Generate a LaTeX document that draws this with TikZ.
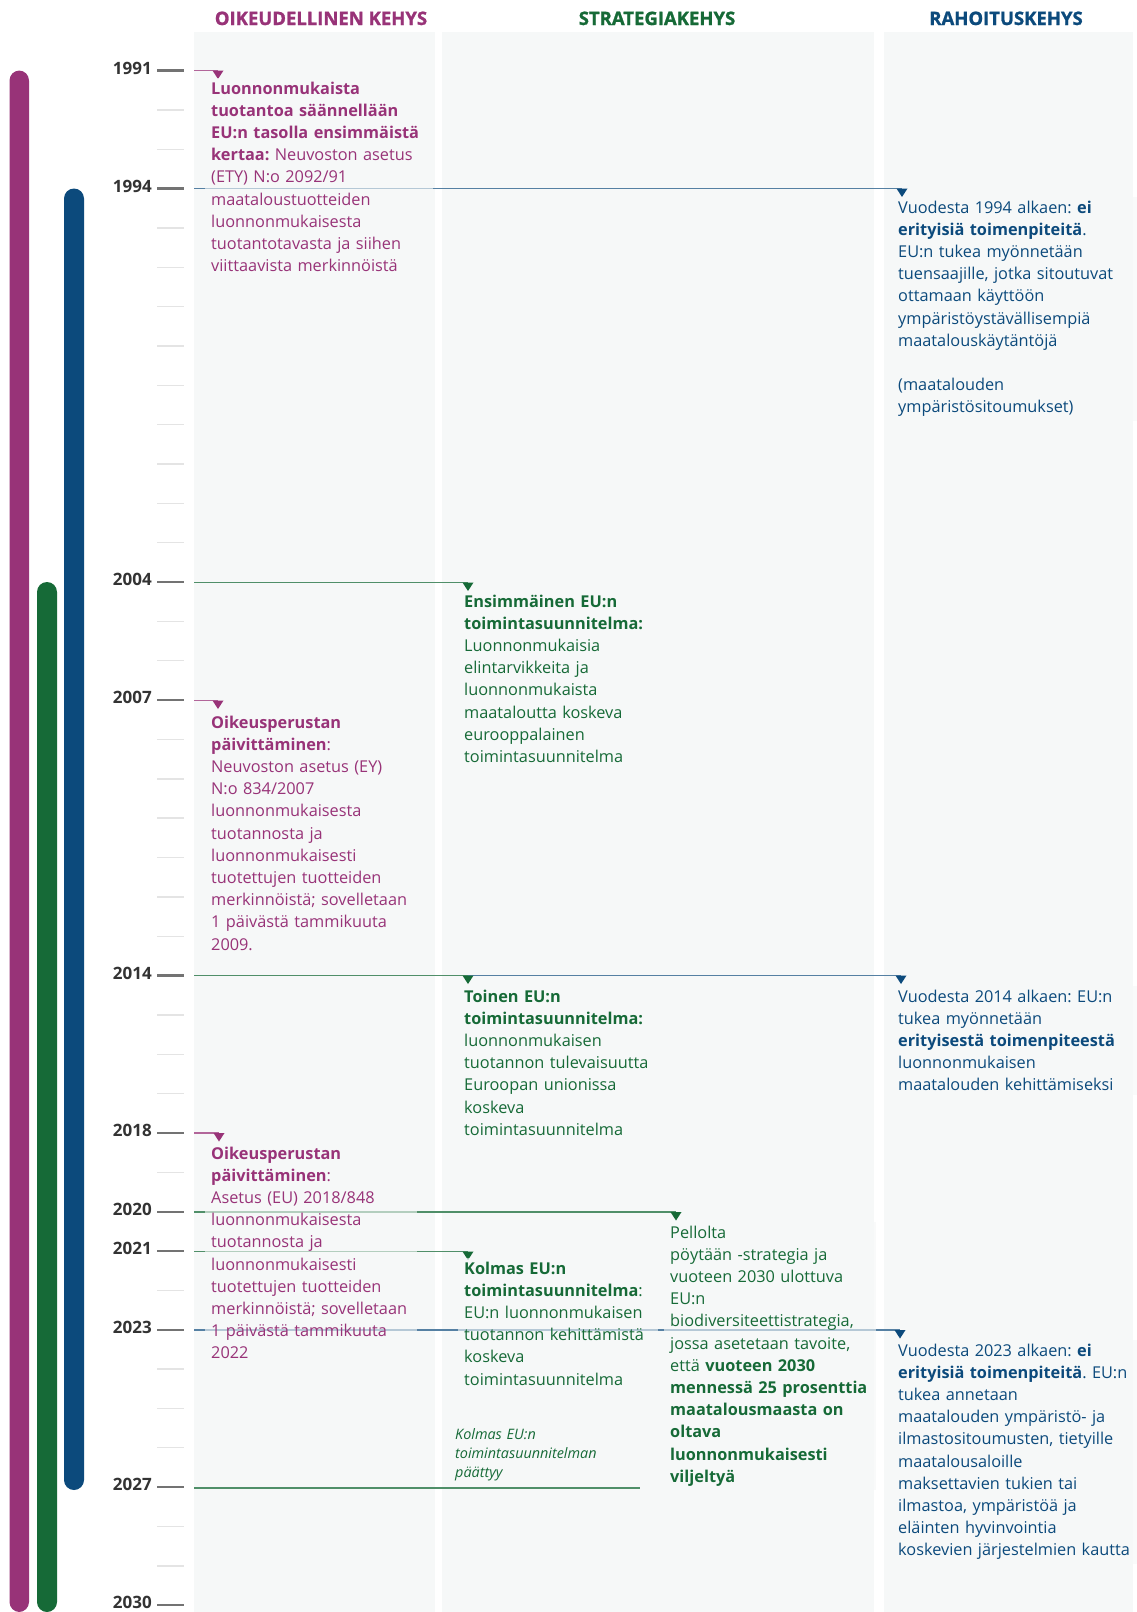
\documentclass[tikz,border=0pt]{standalone}
\usepackage{fontspec}
\setmainfont{Open Sans}
\newfontfamily\hdrfont[BoldFeatures={FakeBold=1.2}]{Open Sans}
\newcommand\myNoHyph{\hyphenpenalty=10000\relax\exhyphenpenalty=10000\relax\frenchspacing}
\definecolor{purp}{RGB}{152,51,120}
\definecolor{blu}{RGB}{12,74,124}
\definecolor{grn}{RGB}{22,106,55}
\definecolor{colbg}{RGB}{246,248,248}
\definecolor{yeartxt}{RGB}{51,51,51}
\definecolor{majtick}{RGB}{115,115,115}
\definecolor{mintick}{RGB}{228,228,228}
\tikzset{
  yearlbl/.style={font=\fontsize{17}{17}\selectfont\bfseries, text=yeartxt, anchor=east, inner sep=0pt},
  majtk/.style={draw=majtick, line width=2.2pt},
  mintk/.style={draw=mintick, line width=1.4pt},
  header/.style={font=\hdrfont\fontsize{18.5}{20}\selectfont\bfseries, anchor=base, inner sep=0pt},
  body/.style={font=\fontsize{16.3}{22.2}\selectfont\myNoHyph, align=left, anchor=base west, inner xsep=6pt, inner ysep=4pt, fill=colbg, fill opacity=0.6, text opacity=1},
  conn/.style={line width=1.4pt},
  bar/.style={rounded corners=10pt},
  note/.style={font=\fontsize{14.4}{19}\selectfont\itshape\myNoHyph, text=grn, align=left, anchor=base west, inner sep=0pt, text width=180pt}
}
\begin{document}
\begin{tikzpicture}[x=1pt,y=-1pt]
\useasboundingbox (0,0) rectangle (1137,1612);
\fill[white] (0,0) rectangle (1137,1612);
% column backgrounds
\fill[colbg] (193.5,32) rectangle (435,1612);
\fill[colbg] (442,32) rectangle (874,1612);
\fill[colbg] (884,32) rectangle (1133,1612);
% headers
\node[header, text=purp] (h1) at (321,25) {OIKEUDELLINEN KEHYS};
\node[header, text=grn] (h2) at (657,25) {STRATEGIAKEHYS};
\node[header, text=blu] (h3) at (1006,25) {RAHOITUSKEHYS};
% bars
\fill[purp, bar] (9.5,70.5) rectangle (29,1612);
\fill[grn, bar] (37,582) rectangle (57,1612);
\fill[blu, bar] (64,188.5) rectangle (84,1490);
% ticks
\foreach \i in {0,...,39} \draw[mintk] (157,{70.5+\i*39.35}) -- (184,{70.5+\i*39.35});
\foreach \yy in {1991,1994,2004,2007,2014,2018,2020,2021,2023,2027,2030}{
  \draw[majtk] (157,{70.5+(\yy-1991)*39.35}) -- (184,{70.5+(\yy-1991)*39.35});
  \node[yearlbl] (y\yy) at (152,{68+(\yy-1991)*39.35}) {\yy};
}
% connector coordinates
\coordinate (s1991) at (194,70.5);   \coordinate (e1991) at (218,70.5);
\coordinate (s1994) at (194,188.5);  \coordinate (e1994) at (902,188.5);
\coordinate (s2004) at (194,582.5);  \coordinate (e2004) at (468,582.5);
\coordinate (s2007) at (194,700.5);  \coordinate (e2007) at (218,700.5);
\coordinate (s2014) at (194,975.5);  \coordinate (m2014) at (468,975.5); \coordinate (e2014) at (901,975.5);
\coordinate (s2018) at (194,1133);   \coordinate (e2018) at (219,1133);
\coordinate (s2020) at (194,1212);   \coordinate (e2020) at (676,1212);
\coordinate (s2021) at (194,1251.5); \coordinate (e2021) at (468,1251.5);
\coordinate (s2023) at (194,1330);   \coordinate (e2023) at (900,1330);
\coordinate (s2027) at (194,1488);   \coordinate (e2027) at (640,1488);
% connectors
\draw[conn, purp!75] (s1991) -- (e1991);
\draw[conn, blu!70] (s1994) -- (e1994);
\draw[conn, grn!75] (s2004) -- (e2004);
\draw[conn, purp!75] (s2007) -- (e2007);
\draw[conn, grn!75] (s2014) -- (m2014);
\draw[conn, blu!70] (m2014) -- (e2014);
\draw[conn, purp!75] (s2018) -- (e2018);
\draw[conn, grn!75] (s2020) -- (e2020);
\draw[conn, grn!75] (s2021) -- (e2021);
\draw[conn, blu!70] (s2023) -- (e2023);
\draw[conn, grn!75] (s2027) -- (e2027);
% triangles
\foreach \p/\c in {e1991/purp,e2007/purp,e2018/purp,e1994/blu,m2014/grn,e2014/blu,e2023/blu,e2004/grn,e2020/grn,e2021/grn}{
  \fill[\c] (\p) ++(-5.5,0) -- ++(11,0) -- ++(-5.5,8.5) -- cycle;
}
% texts
\node[body, text=purp, text width=216pt] (t1991) at (205,94) {\textbf{Luonnonmukaista}\\ \textbf{tuotantoa säännellään}\\ \textbf{EU:n tasolla ensimmäistä}\\ \textbf{kertaa:} Neuvoston asetus\\ (ETY) N:o 2092/91\\ maataloustuotteiden\\ luonnonmukaisesta\\ tuotantotavasta ja siihen\\ viittaavista merkinnöistä};
\node[body, text=blu, text width=236pt] (t1994) at (892,213) {Vuodesta 1994 alkaen: \textbf{ei}\\ \textbf{erityisiä toimenpiteitä}.\\ EU:n tukea myönnetään\\ tuensaajille, jotka sitoutuvat\\ ottamaan käyttöön\\ ympäristöystävällisempiä\\ maatalouskäytäntöjä\\[22.2pt] (maatalouden\\ ympäristösitoumukset)};
\node[body, text=grn, text width=190pt] (t2004) at (458,607) {\textbf{Ensimmäinen EU:n}\\ \textbf{toimintasuunnitelma:}\\ Luonnonmukaisia\\ elintarvikkeita ja\\ luonnonmukaista\\ maataloutta koskeva\\ eurooppalainen\\ toimintasuunnitelma};
\node[body, text=purp, text width=210pt] (t2007) at (205,728) {\textbf{Oikeusperustan}\\ \textbf{päivittäminen}:\\ Neuvoston asetus (EY)\\ N:o 834/2007\\ luonnonmukaisesta\\ tuotannosta ja\\ luonnonmukaisesti\\ tuotettujen tuotteiden\\ merkinnöistä; sovelletaan\\ 1 päivästä tammikuuta\\ 2009.};
\node[body, text=grn, text width=190pt] (t2014a) at (458,1002) {\textbf{Toinen EU:n}\\ \textbf{toimintasuunnitelma:}\\ luonnonmukaisen\\ tuotannon tulevaisuutta\\ Euroopan unionissa\\ koskeva\\ toimintasuunnitelma};
\node[body, text=blu, text width=236pt] (t2014b) at (892,1002) {Vuodesta 2014 alkaen: EU:n\\ tukea myönnetään\\ \textbf{erityisestä toimenpiteestä}\\ luonnonmukaisen\\ maatalouden kehittämiseksi};
\node[body, text=purp, text width=200pt] (t2018) at (205,1159) {\textbf{Oikeusperustan}\\ \textbf{päivittäminen}:\\ Asetus (EU) 2018/848\\ luonnonmukaisesta\\ tuotannosta ja\\ luonnonmukaisesti\\ tuotettujen tuotteiden\\ merkinnöistä; sovelletaan\\ 1 päivästä tammikuuta\\ 2022};
\node[body, text=grn, text width=200pt] (t2020) at (664,1238) {Pellolta\\ pöytään -strategia ja\\ vuoteen 2030 ulottuva\\ EU:n\\ biodiversiteettistrategia,\\ jossa asetetaan tavoite,\\ että \textbf{vuoteen 2030}\\ \textbf{mennessä 25 prosenttia}\\ \textbf{maatalousmaasta on}\\ \textbf{oltava}\\ \textbf{luonnonmukaisesti}\\ \textbf{viljeltyä}};
\node[body, text=grn, text width=188pt] (t2021) at (458,1274) {\textbf{Kolmas EU:n}\\ \textbf{toimintasuunnitelma}:\\ EU:n luonnonmukaisen\\ tuotannon kehittämistä\\ koskeva\\ toimintasuunnitelma};
\node[body, text=blu, text width=236pt] (t2023) at (892,1356) {Vuodesta 2023 alkaen: \textbf{ei}\\ \textbf{erityisiä toimenpiteitä}. EU:n\\ tukea annetaan\\ maatalouden ympäristö- ja\\ ilmastositoumusten, tietyille\\ maatalousaloille\\ maksettavien tukien tai\\ ilmastoa, ympäristöä ja\\ eläinten hyvinvointia\\ koskevien järjestelmien kautta};
\node[note] (t2027) at (455,1439) {Kolmas EU:n\\ toimintasuunnitelman\\ päättyy};
\end{tikzpicture}
\end{document}
